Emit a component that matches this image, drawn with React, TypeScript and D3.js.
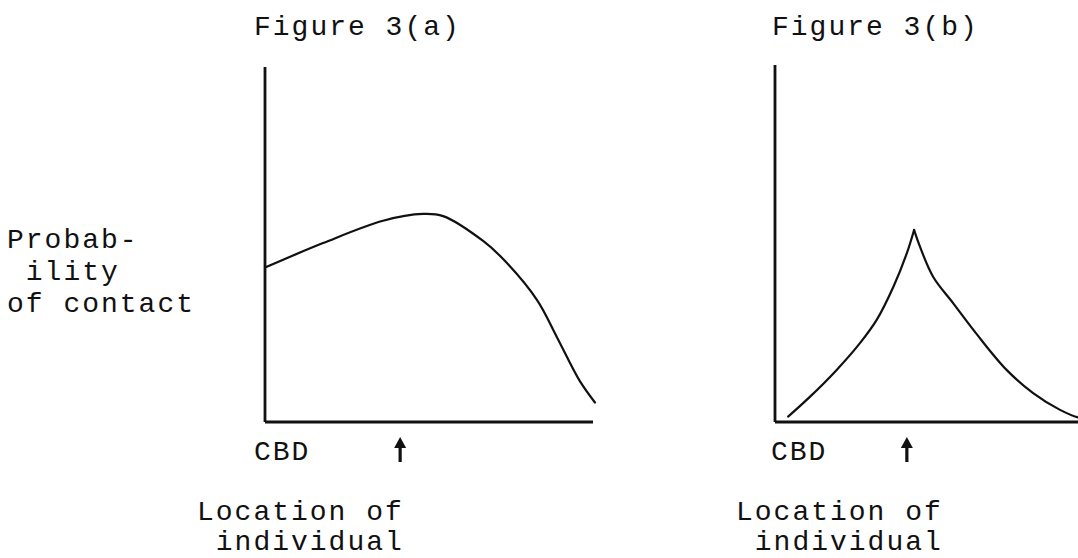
import React from "react";
import { scaleLinear, line, curveCatmullRom } from "d3";

// labels
const panelTitles = ["Figure 3(a)", "Figure 3(b)"];
const yLabelLines = ["Probab-", " ility", "of contact"];
const xLabelLines = ["Location of", " individual"];
const originLabel = "CBD";
// where the individual lives (0 = CBD, 100 = end of axis)
const individualPos = [41.2, 40.2];

// Figure 3(a): broad hump
const curveAx = [0, 17.7, 36, 48.2, 54.3, 66.5, 72.6, 82.9, 89.0, 96.0, 100.6];
const curveAy = [43.5, 50.4, 56.7, 58.6, 58.0, 51.0, 45.9, 34.4, 23.9, 11.5, 5.5];

// Figure 3(b): sharp peak, drawn as two sides so the cusp stays sharp
const curveBRiseX = [4.0, 10.7, 18.8, 25.9, 31.0, 36.1, 40.2, 42.4];
const curveBRiseY = [1.5, 7.1, 14.6, 22.1, 28.6, 37.9, 47.3, 53.8];
const curveBFallX = [42.4, 44.2, 48.2, 54.3, 61.5, 70.6, 78.7, 86.9, 92.4, 99.1];
const curveBFallY = [53.8, 49.1, 40.7, 33.3, 24.6, 14.6, 8.1, 3.4, 1.3, 0.6];

const FONT = "'Liberation Mono', 'Courier New', monospace";
const INK = "#111";
// mono face at 28px + 2px spacing ~ the 18.8px cell of the typewriter original
const textStyle = { fontFamily: FONT, fontSize: 28, letterSpacing: 2, fill: INK };

const zip = (xs: number[], ys: number[]) => xs.map((x, i) => [x, ys[i]] as [number, number]);

const panels = [
  {
    title: panelTitles[0],
    xRange: [265, 593],
    yRange: [422, 67],
    segments: [zip(curveAx, curveAy)],
    arrow: individualPos[0],
    titleX: 254,
    cbdX: 254,
    locX: 197,
  },
  {
    title: panelTitles[1],
    xRange: [775, 1103],
    yRange: [422, 65],
    segments: [zip(curveBRiseX, curveBRiseY), zip(curveBFallX, curveBFallY)],
    arrow: individualPos[1],
    titleX: 772,
    cbdX: 771,
    locX: 736,
  },
];

function Panel({ p }: { p: (typeof panels)[number] }) {
  const x = scaleLinear().domain([0, 100]).range(p.xRange);
  const y = scaleLinear().domain([0, 100]).range(p.yRange);
  const path = line<[number, number]>()
    .x((d) => x(d[0]))
    .y((d) => y(d[1]))
    .curve(curveCatmullRom.alpha(0.5));

  const ax = x(p.arrow);
  const arrowTop = y(0) + 15;
  const arrowBottom = y(0) + 40;

  return (
    <g>
      <text x={p.titleX} y={35} style={textStyle}>
        {p.title}
      </text>
      {/* axes */}
      <line x1={x(0)} y1={y(100)} x2={x(0)} y2={y(0)} stroke={INK} strokeWidth={2.8} />
      <line x1={x(0)} y1={y(0)} x2={x(100)} y2={y(0)} stroke={INK} strokeWidth={2.8} />
      {p.segments.map((s, i) => (
        <path
          key={i}
          d={path(s) || ""}
          fill="none"
          stroke={INK}
          strokeWidth={2.2}
          strokeLinejoin="round"
          strokeLinecap="round"
        />
      ))}
      <text x={p.cbdX} y={460} style={textStyle}>
        {originLabel}
      </text>
      {/* arrow marking the individual's location */}
      <line x1={ax} y1={arrowTop + 6} x2={ax} y2={arrowBottom} stroke={INK} strokeWidth={3.2} />
      <path
        d={`M${ax - 6},${arrowTop + 11} L${ax},${arrowTop} L${ax + 6},${arrowTop + 11} Z`}
        fill={INK}
      />
      {xLabelLines.map((t, i) => (
        <text
          key={i}
          x={p.locX}
          y={520 + i * 30}
          xmlSpace="preserve"
          style={{ ...textStyle, whiteSpace: "pre" }}
        >
          {t}
        </text>
      ))}
    </g>
  );
}

export default function App() {
  return (
    <div style={{ position: "absolute", left: 0, top: 0 }}>
      <svg width={1078} height={558} style={{ display: "block", background: "#fff" }}>
        {yLabelLines.map((t, i) => (
          <text
            key={i}
            x={7}
            y={248 + i * 32}
            xmlSpace="preserve"
            style={{ ...textStyle, whiteSpace: "pre" }}
          >
            {t}
          </text>
        ))}
        {panels.map((p, i) => (
          <Panel key={i} p={p} />
        ))}
      </svg>
    </div>
  );
}
